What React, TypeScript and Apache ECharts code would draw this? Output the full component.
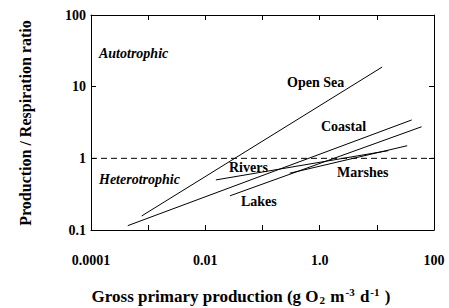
import React, { useEffect, useRef } from "react";
import * as echarts from "echarts";

const xTickLabels: Record<string, string> = { "0.0001": "0.0001", "0.01": "0.01", "1": "1.0", "100": "100" };
const yTickLabels: Record<string, string> = { "0.1": "0.1", "1": "1", "10": "10", "100": "100" };

const openSea = [[0.00077, 0.157], [12.4, 18.8]];
const coastal = [[0.00044, 0.115], [40.7, 3.43]];
const lakes = [[0.027, 0.3], [60.8, 2.76]];
const rivers = [[0.0153, 0.5], [15.9, 1.28]];
const marshes = [[0.3, 0.62], [34, 1.5]];
const balance = [[0.0001, 1], [100, 1]];

const seriesLabels = [
  { name: "Autotrophic", x: 99, y: 53, italic: true },
  { name: "Heterotrophic", x: 99, y: 179, italic: true },
  { name: "Open Sea", x: 287, y: 82, italic: false },
  { name: "Coastal", x: 321, y: 126, italic: false },
  { name: "Rivers", x: 229, y: 167, italic: false },
  { name: "Marshes", x: 337, y: 172, italic: false },
  { name: "Lakes", x: 241, y: 201, italic: false },
];

const FONT = "'Liberation Serif', 'Times New Roman', serif";

export default function App() {
  const ref = useRef<HTMLDivElement>(null);
  useEffect(() => {
    document.body.style.margin = "0";
    document.body.style.overflow = "hidden";
    const chart = echarts.init(ref.current!, null, { renderer: "svg" });
    const lineStyle = { color: "#000", width: 1 };
    const mk = (data: number[][], dashed = false) => ({
      type: "line",
      data,
      showSymbol: false,
      symbol: "none",
      lineStyle: dashed ? { ...lineStyle, type: [6, 4] } : lineStyle,
      xAxisIndex: 0,
      yAxisIndex: 0,
      silent: true,
    });
    const axisBase = {
      type: "log",
      logBase: 10,
      axisLine: { show: true, lineStyle: { color: "#000", width: 1 } },
      axisTick: { show: true, inside: true, length: 5, lineStyle: { color: "#000" } },
      splitLine: { show: false },
      minorTick: { show: false },
    };
    chart.setOption({
      animation: false,
      backgroundColor: "#fff",
      grid: { left: 91, right: 15, top: 15, bottom: 78, containLabel: false },
      xAxis: [
        {
          ...axisBase,
          min: 0.0001,
          max: 100,
          position: "bottom",
          axisLabel: {
            margin: 23,
            fontFamily: FONT,
            fontWeight: "bold",
            fontSize: 14,
            color: "#000",
            showMinLabel: true,
            showMaxLabel: true,
            formatter: (v: number) => {
              const k = String(+v.toPrecision(3));
              return xTickLabels[k] ?? "";
            },
          },
        },
        {
          ...axisBase,
          min: 0.0001,
          max: 100,
          position: "top",
          axisLabel: { show: false },
        },
      ],
      yAxis: [
        {
          ...axisBase,
          min: 0.1,
          max: 100,
          position: "left",
          axisLabel: {
            margin: 5,
            fontFamily: FONT,
            fontWeight: "bold",
            fontSize: 14,
            color: "#000",
            formatter: (v: number) => {
              const k = String(+v.toPrecision(3));
              return yTickLabels[k] ?? "";
            },
          },
        },
        {
          ...axisBase,
          min: 0.1,
          max: 100,
          position: "right",
          axisLabel: { show: false },
        },
      ],
      series: [
        mk(balance, true),
        mk(openSea),
        mk(coastal),
        mk(lakes),
        mk(rivers),
        mk(marshes),
      ],
      graphic: [
        ...seriesLabels.map((l) => ({
          type: "text",
          x: l.x,
          y: l.y,
          style: {
            text: l.name,
            fontFamily: FONT,
            fontWeight: "bold",
            fontStyle: l.italic ? "italic" : "normal",
            fontSize: 14,
            fill: "#000",
            textVerticalAlign: "middle",
          },
        })),
        {
          type: "text",
          x: 25,
          y: 123,
          rotation: Math.PI / 2,
          style: {
            text: "Production / Respiration ratio",
            fontFamily: FONT,
            fontWeight: "bold",
            fontSize: 16,
            fill: "#000",
            align: "center",
            verticalAlign: "middle",
          },
        },
        {
          type: "text",
          x: 241,
          y: 296,
          style: {
            text: "{n|Gross primary production (g O}{sub|2}{n| m}{sup|-3}{n| d}{sup|-1}{n| )}",
            fontFamily: FONT,
            align: "center",
            verticalAlign: "middle",
            fill: "#000",
            rich: {
              n: { fontFamily: FONT, fontWeight: "bold", fontSize: 17, fill: "#000" },
              sub: { fontFamily: FONT, fontWeight: "bold", fontSize: 11, fill: "#000", padding: [8, 1, 0, 1] },
              sup: { fontFamily: FONT, fontWeight: "bold", fontSize: 11, fill: "#000", padding: [0, 1, 8, 1] },
            },
          },
        },
      ],
    });
    return () => chart.dispose();
  }, []);
  return <div ref={ref} style={{ position: "fixed", left: 0, top: 0, width: 449, height: 308 }} />;
}
